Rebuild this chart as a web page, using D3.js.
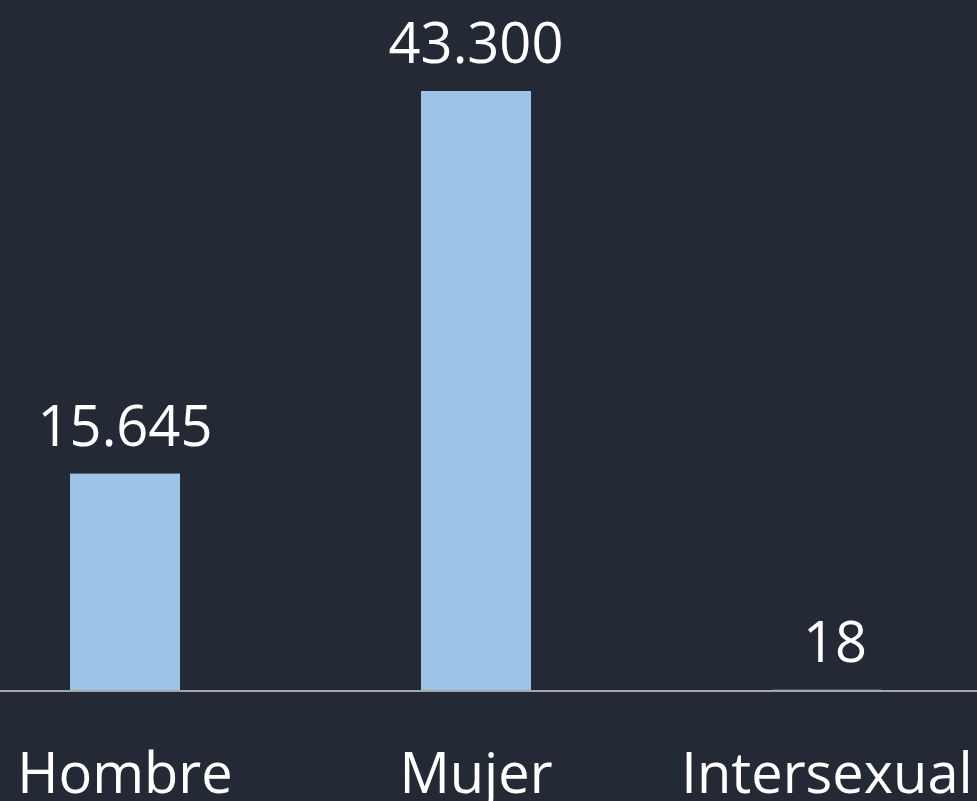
<!DOCTYPE html>
<html>
<head>
<meta charset="utf-8">
<script src="https://cdn.jsdelivr.net/npm/d3@7"></script>
<style>
  html, body { margin: 0; padding: 0; background: #232a36; }
  svg { display: block; }
  text { font-family: "Open Sans", "Noto Sans", sans-serif; fill: #ffffff; }
</style>
</head>
<body>
<div id="viz"></div>
<script>
"use strict";

const categories = ["Hombre", "Mujer", "Intersexual"];
const values = [15645, 43300, 18];
const valueLabels = ["15.645", "43.300", "18"];

const w = 977;
const h = 801;
const baseY = 690;

const svg = d3.select("#viz")
  .append("svg")
  .attr("width", w)
  .attr("height", h);

svg.append("rect")
  .attr("width", w)
  .attr("height", h)
  .attr("fill", "#232a36");

const x = d3.scalePoint()
  .domain(categories)
  .range([125, 827]);

const y = d3.scaleLinear()
  .domain([0, 43300])
  .range([baseY, 91]);

const barW = 110;

// bars
svg.append("g")
  .selectAll("rect")
  .data(values)
  .join("rect")
  .attr("x", (d, i) => x(categories[i]) - barW / 2)
  .attr("y", d => y(d))
  .attr("width", barW)
  .attr("height", d => y(0) - y(d))
  .attr("fill", "#9dc3e6");

// baseline
svg.append("line")
  .attr("x1", 0)
  .attr("x2", w)
  .attr("y1", baseY + 1)
  .attr("y2", baseY + 1)
  .attr("stroke", "#a6a6a6")
  .attr("stroke-width", 2);

// value labels
svg.append("g")
  .selectAll("text")
  .data(values)
  .join("text")
  .attr("x", (d, i) => x(categories[i]) + (i === 2 ? 8 : 0))
  .attr("y", d => y(d) - 28)
  .attr("text-anchor", "middle")
  .attr("font-size", 56)
  .text((d, i) => valueLabels[i]);

// category labels
svg.append("g")
  .selectAll("text")
  .data(categories)
  .join("text")
  .attr("x", d => x(d))
  .attr("y", 793)
  .attr("text-anchor", "middle")
  .attr("font-size", 56)
  .text(d => d);
</script>
</body>
</html>
